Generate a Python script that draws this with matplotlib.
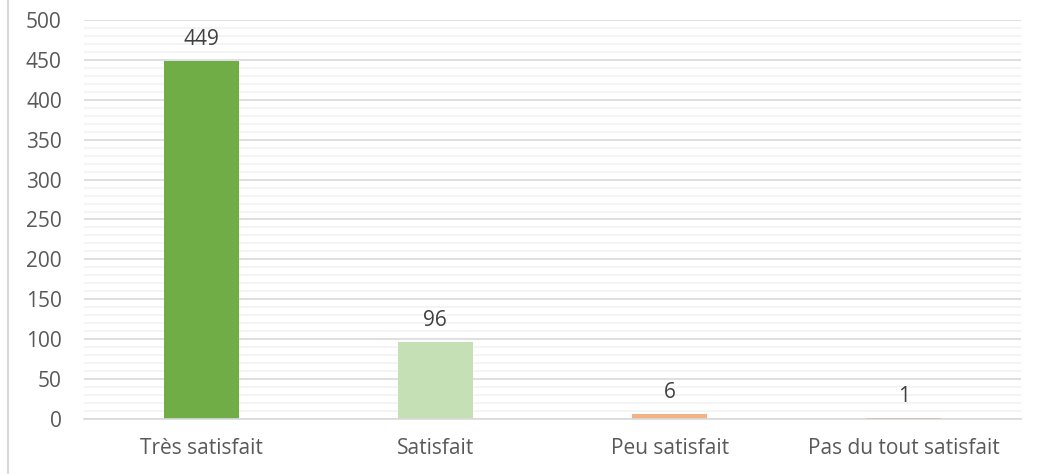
import matplotlib.pyplot as plt
from matplotlib.lines import Line2D

categories = ["Très satisfait", "Satisfait", "Peu satisfait", "Pas du tout satisfait"]
values = [449, 96, 6, 1]
colors = ["#70ad47", "#c5e0b4", "#f4b183", "#c55a11"]

plt.rcParams['font.family'] = ['Open Sans', 'DejaVu Sans']
font_size = 15

fig = plt.figure(figsize=(10.42, 4.74), dpi=100)
ax = fig.add_axes([84/1042, 1 - 419/474, 937/1042, 399/474])

x = list(range(len(categories)))
bars = ax.bar(x, values, width=0.32, color=colors, zorder=3)

ax.set_xlim(-0.5, len(categories) - 0.5)
ax.set_ylim(0, 500)
ax.set_yticks(range(0, 501, 50))
ax.set_yticks(range(0, 501, 10), minor=True)
ax.grid(axis='y', which='minor', color='#f2f2f2', linewidth=1.2, zorder=0)
ax.grid(axis='y', which='major', color='#d9d9d9', linewidth=1.2, zorder=1)

ax.set_xticks(x)
ax.set_xticklabels(categories)
ax.tick_params(axis='both', which='both', length=0, labelsize=font_size, colors='#595959')
ax.tick_params(axis='x', pad=14)
ax.tick_params(axis='y', pad=16)

for s in ['top', 'right', 'left']:
	ax.spines[s].set_visible(False)
ax.spines['bottom'].set_color('#d9d9d9')
ax.spines['bottom'].set_linewidth(1.2)
ax.spines['bottom'].set_zorder(4)

for b, v in zip(bars, values):
	ax.annotate(str(v), xy=(b.get_x() + b.get_width()/2, v), xytext=(0, 8),
		textcoords='offset points', ha='center', va='bottom',
		fontsize=font_size, color='#404040')

# light frame line on the left of the chart
fig.add_artist(Line2D([8/1042, 8/1042], [0, 1], color='#d9d9d9', linewidth=1.5))

plt.savefig("out.png", dpi=100)
